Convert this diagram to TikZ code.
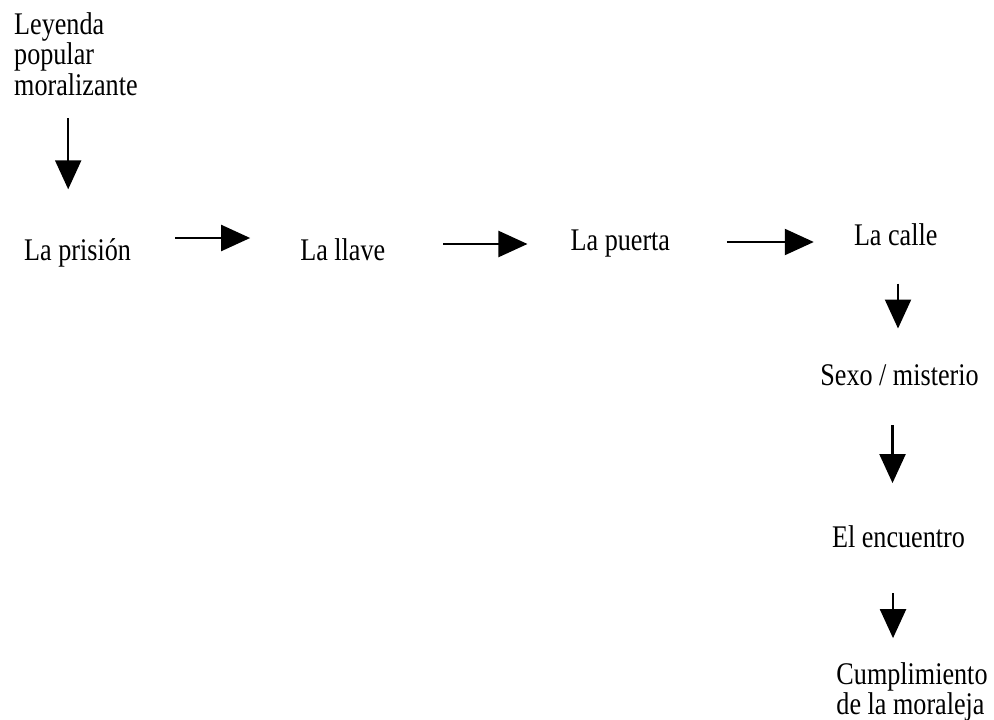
\documentclass[tikz,border=0pt]{standalone}
\usepackage{fontspec}
\setmainfont{Liberation Serif}[FakeStretch=0.83]
\usetikzlibrary{arrows.meta, positioning}

\begin{document}
\begin{tikzpicture}[x=1pt, y=-1pt, every node/.style={font=\fontsize{31.5}{30.5}\selectfont}]
  \tikzset{
    lbl/.style={inner sep=0pt, align=left},
    line/.style={-{Triangle[length=29pt, width=26pt]}, line width=2.2pt, color=black}
  }
  \useasboundingbox (0,0) rectangle (994,720);

  \node[lbl, anchor=north west] (leyenda) at (14,12) {Leyenda\\popular\\moralizante};
  \node[lbl, anchor=base west] (prision) at (24,260) {La prisión};
  \node[lbl, right=169pt of prision.base east, anchor=base west] (llave) {La llave};
  \node[lbl, right=185pt of llave.base east, anchor=base west, yshift=10pt] (puerta) {La puerta};
  \node[lbl, right=183.5pt of puerta.base east, anchor=base west, yshift=5pt] (calle) {La calle};
  \node[lbl, below=118.5pt of calle, xshift=3.8pt] (sexo) {Sexo / misterio};
  \node[lbl, below=140pt of sexo, xshift=-1pt] (encuentro) {El encuentro};
  \node[lbl, below=114.5pt of encuentro, xshift=13.5pt, font=\fontsize{31.5}{27}\selectfont] (cumplimiento) {Cumplimiento\\de la moraleja};

  \draw[line, shorten <=22.7pt, shorten >=48.6pt] ([xshift=-7.7pt]leyenda.south) -- ([xshift=-7.7pt]leyenda.south |- prision.north);
  \draw[line, shorten <=44.3pt, shorten >=50pt] ([yshift=22pt]prision.base east) -- ([yshift=22pt]llave.base west);
  \draw[line, shorten <=58pt, shorten >=43pt] ([yshift=16pt]llave.base east) -- ([yshift=16pt]llave.base east -| puerta.west);
  \draw[line, shorten <=56.5pt, shorten >=40pt] ([yshift=8pt]puerta.base east) -- ([yshift=8pt]puerta.base east -| calle.west);
  \draw[line, shorten <=38pt, shorten >=35.5pt] ([xshift=2.3pt]calle.south) -- ([xshift=2.3pt]calle.south |- sexo.north);
  \draw[line, shorten <=39.6pt, shorten >=42.5pt] ([xshift=-7pt]sexo.south) -- ([xshift=-7pt]sexo.south |- encuentro.north);
  \draw[line, shorten <=45pt, shorten >=24.5pt] ([xshift=-5.5pt]encuentro.south) -- ([xshift=-5.5pt]encuentro.south |- cumplimiento.north);
\end{tikzpicture}
\end{document}
